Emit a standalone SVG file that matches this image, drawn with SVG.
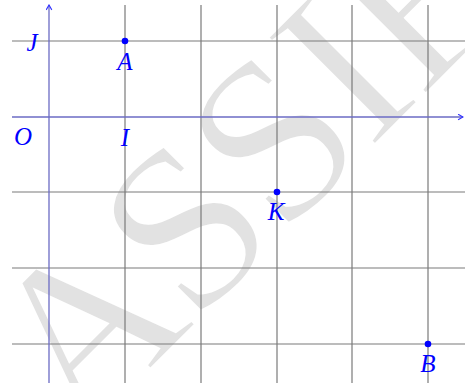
<svg xmlns="http://www.w3.org/2000/svg" width="465" height="383" viewBox="0 0 465 383">
<style>
.grid{stroke:#7a7a7a;stroke-width:1.2;fill:none}
.axis{stroke:#6b6bc4;stroke-width:1.3;fill:none}
.lbl{font-family:"Liberation Serif",serif;font-style:italic;font-size:25px;fill:#0000ff;text-anchor:middle}
.pt{fill:#0000ff}
.wm{font-family:"Liberation Serif",serif;font-size:232px;fill:#e2e2e2;stroke:#ffffff;stroke-width:3;letter-spacing:-5px}
</style>
<defs>
<marker id="arr" viewBox="0 0 10 10" refX="9" refY="5" markerWidth="7" markerHeight="7" orient="auto" markerUnits="userSpaceOnUse">
<path d="M2,1 L9,5 L2,9" fill="none" stroke="#3333ff" stroke-width="1.6"/>
</marker>
</defs>
<rect width="465" height="383" fill="#ffffff"/>
<text class="wm" transform="translate(395,125) rotate(-45)" x="-734" y="0">CLASSIFIED</text>
<g id="grid" class="grid">
<line x1="12" y1="41" x2="465" y2="41"/>
<line x1="12" y1="192" x2="465" y2="192"/>
<line x1="12" y1="268" x2="465" y2="268"/>
<line x1="12" y1="344" x2="465" y2="344"/>
<line x1="125" y1="5" x2="125" y2="383"/>
<line x1="201" y1="5" x2="201" y2="383"/>
<line x1="277" y1="5" x2="277" y2="383"/>
<line x1="352" y1="5" x2="352" y2="383"/>
<line x1="428" y1="5" x2="428" y2="383"/>
</g>
<g id="axes" class="axis">
<line x1="12" y1="117" x2="463" y2="117" marker-end="url(#arr)"/>
<line x1="49" y1="383" x2="49" y2="5" marker-end="url(#arr)"/>
</g>
<g id="labels">
<text class="lbl" x="32" y="51">J</text>
<text class="lbl" x="23" y="145">O</text>
<text class="lbl" x="125" y="146">I</text>
</g>
<g id="A"><circle class="pt" cx="125" cy="41" r="3.3"/><text class="lbl" x="125" y="70">A</text></g>
<g id="K"><circle class="pt" cx="277" cy="192" r="3.3"/><text class="lbl" x="276" y="220">K</text></g>
<g id="B"><circle class="pt" cx="428" cy="344" r="3.3"/><text class="lbl" x="428" y="372">B</text></g>
</svg>
